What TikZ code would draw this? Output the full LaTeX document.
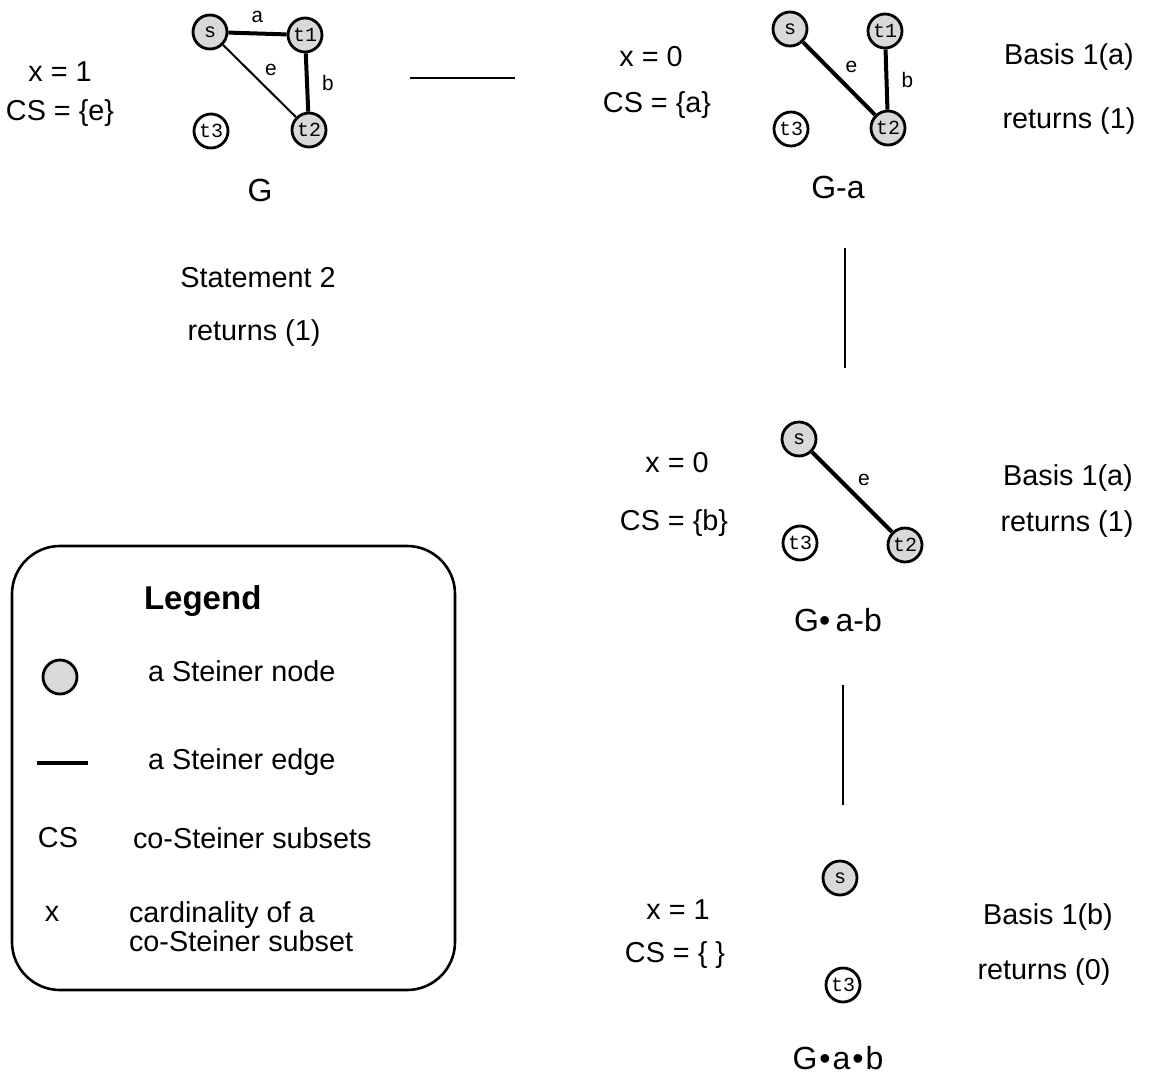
\documentclass[tikz,border=0pt]{standalone}
\usepackage{fontspec}
\setmainfont{Liberation Sans}
\newfontfamily\monofont{Liberation Mono}
\begin{document}
\begin{tikzpicture}[x=0.5pt,y=-0.5pt,
  vtx/.style={circle, draw, line width=1.4pt, minimum size=17pt, inner sep=0pt,
    font=\monofont\fontsize{10}{10}\selectfont},
  stn/.style={vtx, fill=gray!30},
  trm/.style={vtx, fill=white},
  sedge/.style={line width=2pt},
  pedge/.style={line width=1pt},
  elbl/.style={font=\monofont\fontsize{10.5}{10.5}\selectfont},
  diaglbl/.style={elbl, anchor=south west, inner sep=2pt},
  txt/.style={font=\fontsize{14.4}{16}\selectfont},
  gname/.style={font=\fontsize{16}{18}\selectfont},
  link/.style={line width=1pt}]
\useasboundingbox (0,0) rectangle (1151,1082);

% --- graph G ---
\node[stn] (gs)  at (210,32)  {s};
\node[stn] (gt1) at (305,35)  {t1};
\node[stn] (gt2) at (309,130) {t2};
\node[trm] (gt3) at (211,131) {t3};
\draw[sedge] (gs) -- node[elbl, above=1pt] {a} (gt1);
\draw[sedge] (gt1) -- node[elbl, right=3pt] {b} (gt2);
\draw[pedge] (gs) -- node[diaglbl] {e} (gt2);
\node[gname] (gG) at (260,190) {G};
\node[txt] (gx)  at (60,72)  {x = 1};
\node[txt] (gcs) at (60,113) {CS = \{e\}};
\node[txt] (st2) at (258,278) {Statement 2};
\node[txt] (st2r) at (254,333) {returns (1)};

% --- graph G-a ---
\node[stn] (as)  at (790,29)  {s};
\node[stn] (at1) at (885,31)  {t1};
\node[stn] (at2) at (888,128) {t2};
\node[trm] (at3) at (791,129) {t3};
\draw[sedge] (as) -- node[diaglbl] {e} (at2);
\draw[sedge] (at1) -- node[elbl, right=3pt] {b} (at2);
\node[gname] (aG) at (838,187) {G-a};
\node[txt] (ax)  at (651,57)  {x = 0};
\node[txt] (acs) at (657,105) {CS = \{a\}};
\node[txt] (ab)  at (1069,57)  {Basis 1(a)};
\node[txt] (abr) at (1069,121) {returns (1)};

% --- graph G.a-b ---
\node[stn] (bs)  at (799,439) {s};
\node[stn] (bt2) at (905,545) {t2};
\node[trm] (bt3) at (800,543) {t3};
\draw[sedge] (bs) -- node[diaglbl, font=\fontsize{10.5}{10.5}\selectfont] {e} (bt2);
\node[gname] (bG) at (838,620) {G•\,a-b};
\node[txt] (bx)  at (677,463) {x = 0};
\node[txt] (bcs) at (674,523) {CS = \{b\}};
\node[txt] (bb)  at (1068,478) {Basis 1(a)};
\node[txt] (bbr) at (1067,524) {returns (1)};

% --- graph G.a.b ---
\node[stn] (cs)  at (840,878) {s};
\node[trm] (ct3) at (843,985) {t3};
\node[gname] (cG) at (838,1058) {G\kern1pt•\kern1pt a\kern1pt•\kern1pt b};
\node[txt] (cx)  at (678,910) {x = 1};
\node[txt] (ccs) at (675,955) {CS = \{ \}};
\node[txt] (cb)  at (1048,917) {Basis 1(b)};
\node[txt] (cbr) at (1044,972) {returns (0)};

% --- links between stages ---
\coordinate (l1a) at (410,78);  \coordinate (l1b) at (515,78);
\coordinate (l2a) at (845,248); \coordinate (l2b) at (845,368);
\coordinate (l3a) at (843,685); \coordinate (l3b) at (843,805);
\draw[link] (l1a) -- (l1b);
\draw[link] (l2a) -- (l2b);
\draw[link] (l3a) -- (l3b);

% --- legend ---
\draw[line width=1.3pt, rounded corners=24pt] (12,546) rectangle (455,990);
\node[font=\bfseries\fontsize{16.5}{18}\selectfont, anchor=west] (lg) at (137,601) {Legend};
\node[stn] (lnode) at (60,677) {};
\node[txt, anchor=west] (lnt) at (141,671) {a Steiner node};
\coordinate (le1) at (37,763); \coordinate (le2) at (88,763);
\draw[sedge] (le1) -- (le2);
\node[txt, anchor=west] (let) at (141,762) {a Steiner edge};
\node[txt] (lcs) at (58,838) {CS};
\node[txt, anchor=west] (lcst) at (126,838) {co-Steiner subsets};
\node[txt] (lx) at (52,914) {x};
\node[anchor=west, align=left, font=\fontsize{14.4}{14.6}\selectfont] (lxt) at (122,927) {cardinality of a\\co-Steiner subset};
\end{tikzpicture}
\end{document}
